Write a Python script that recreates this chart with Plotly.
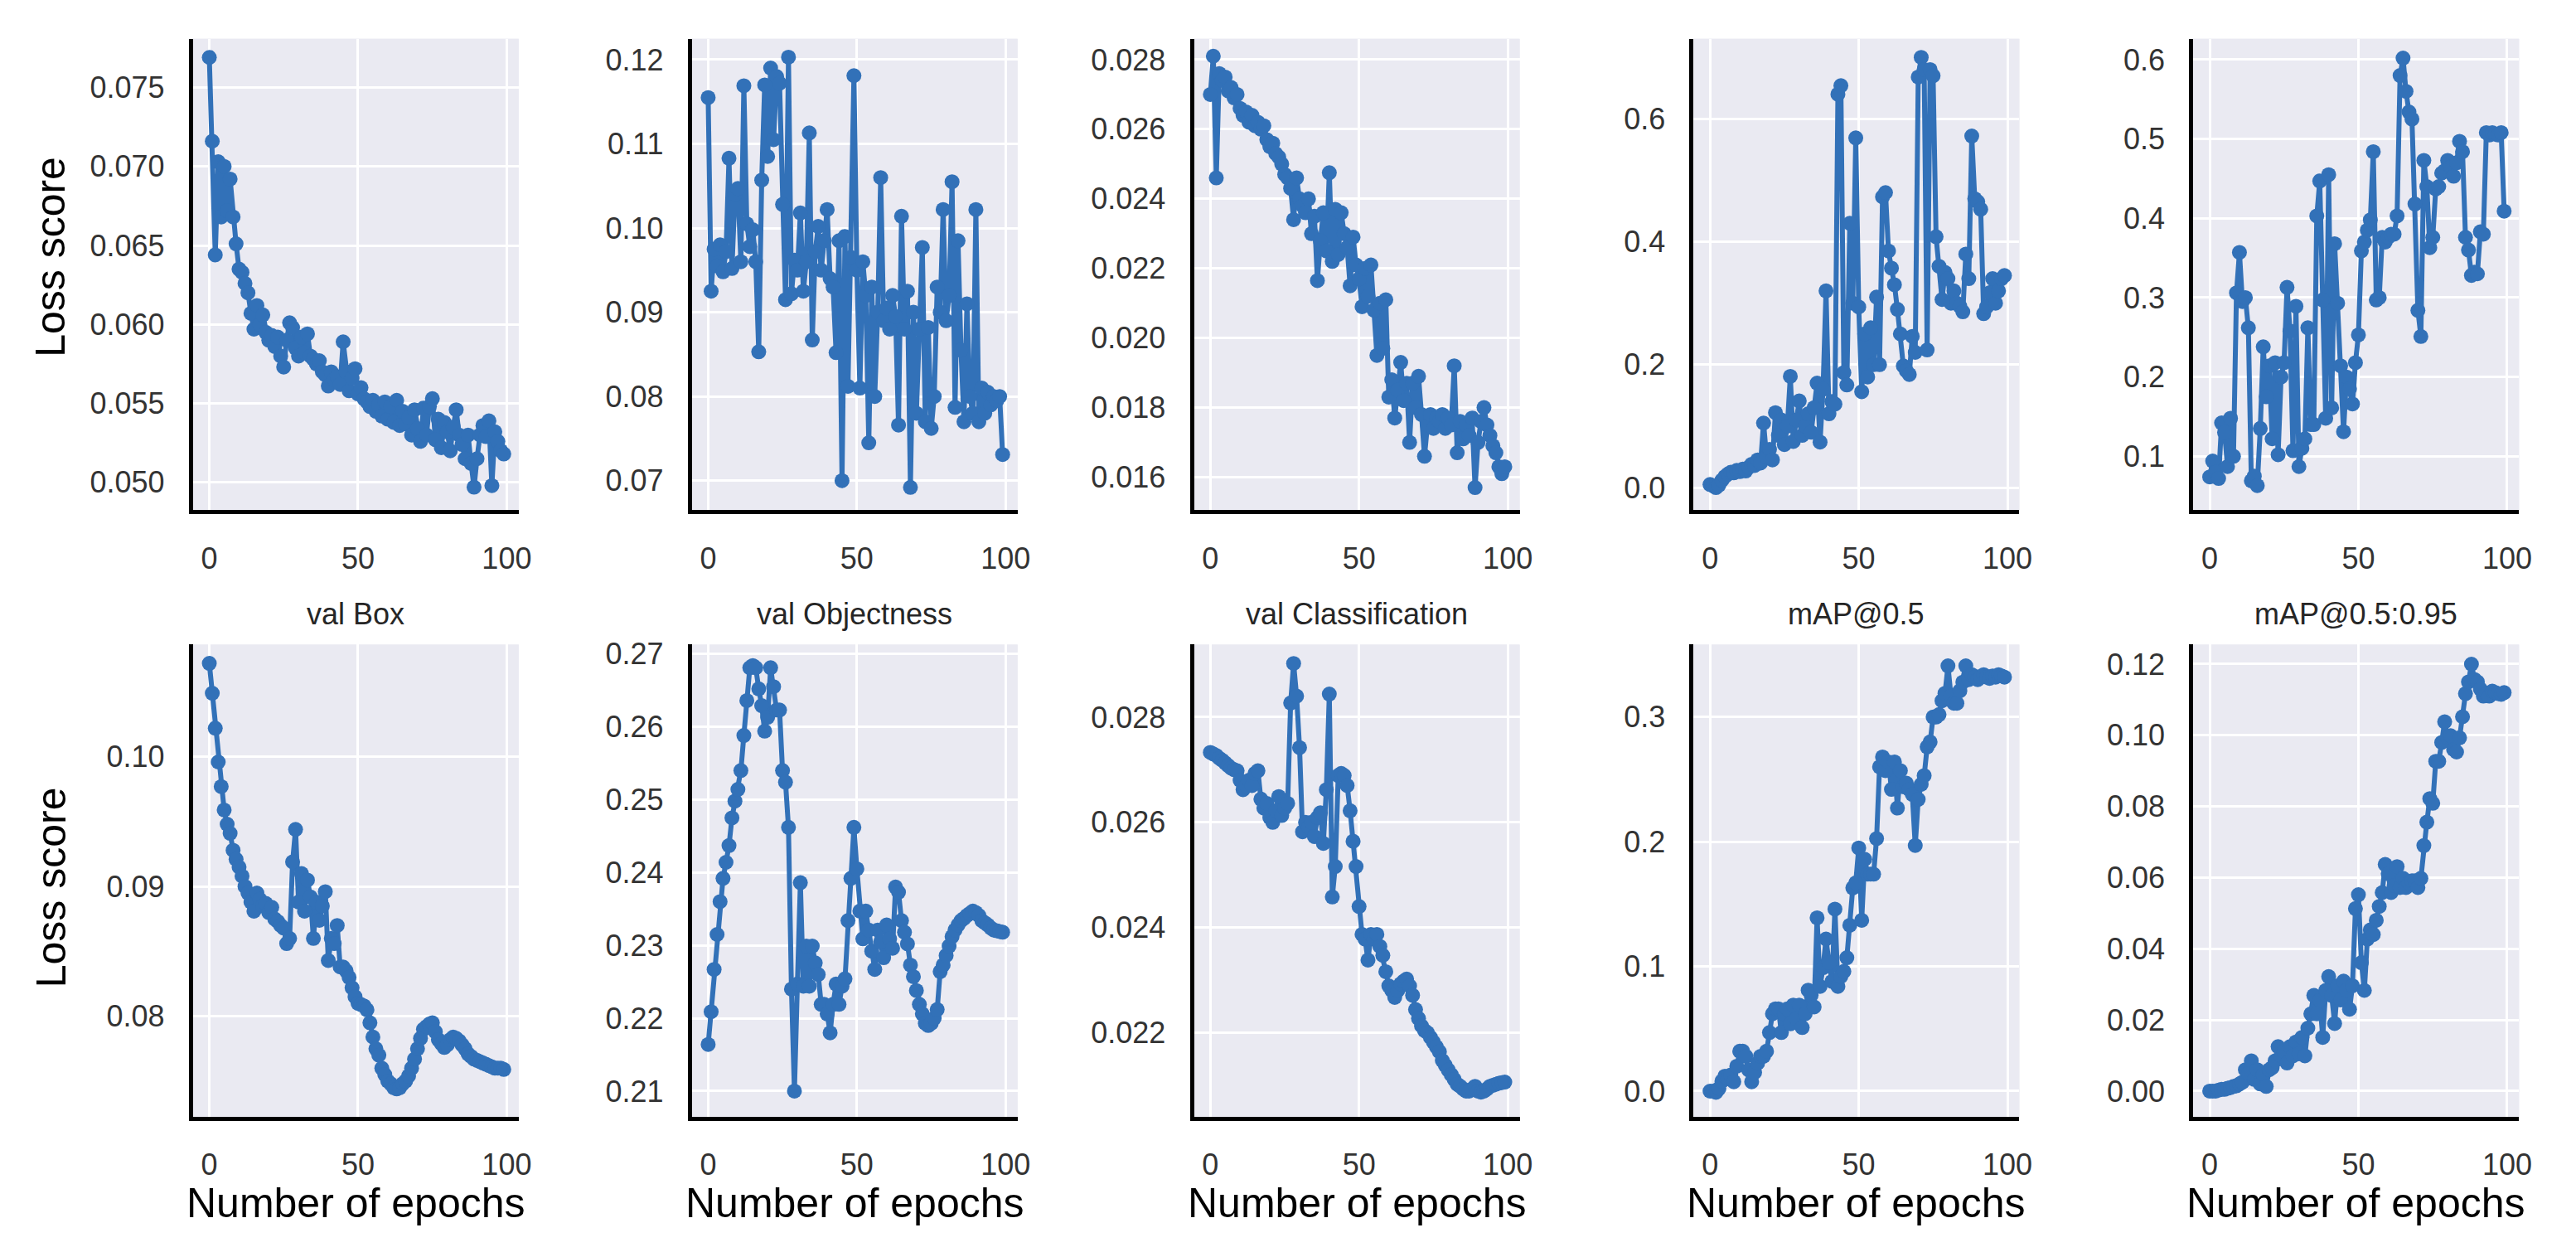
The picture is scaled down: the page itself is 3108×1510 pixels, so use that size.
import plotly.graph_objects as go

# ---------------- data ----------------
train_box = [0.0769, 0.0716, 0.0644, 0.0703, 0.0668, 0.0700, 0.0672, 0.0692, 0.0668, 0.0651,
             0.0635, 0.0633, 0.0626, 0.0620, 0.0607, 0.0597, 0.0612, 0.0600, 0.0606, 0.0595,
             0.0590, 0.0593, 0.0586, 0.0592, 0.0580, 0.0573, 0.0590, 0.0601, 0.0598, 0.0585,
             0.0580, 0.0592, 0.0582, 0.0594, 0.0580, 0.0578, 0.0575, 0.0577, 0.0570, 0.0568,
             0.0561, 0.0570, 0.0565, 0.0567, 0.0562, 0.0589, 0.0570, 0.0558, 0.0566, 0.0572,
             0.0556, 0.0560, 0.0553, 0.0551, 0.0548, 0.0552, 0.0545, 0.0549, 0.0542, 0.0551,
             0.0540, 0.0548, 0.0538, 0.0552, 0.0536, 0.0545, 0.0537, 0.0541, 0.0530, 0.0546,
             0.0534, 0.0526, 0.0547, 0.0530, 0.0548, 0.0553, 0.0527, 0.0540, 0.0522, 0.0538,
             0.0532, 0.0520, 0.0535, 0.0546, 0.0530, 0.0524, 0.0515, 0.0530, 0.0512, 0.0497,
             0.0515, 0.0530, 0.0536, 0.0529, 0.0539, 0.0498, 0.0532, 0.0526, 0.0520, 0.0518]

train_obj = [0.1155, 0.0925, 0.0975, 0.0955, 0.0980, 0.0948, 0.0972, 0.1083, 0.0952, 0.1040,
             0.1047, 0.0960, 0.1169, 0.1005, 0.0978, 0.0998, 0.0960, 0.0853, 0.1057, 0.1170,
             0.1085, 0.1190, 0.1105, 0.1180, 0.1172, 0.1028, 0.0915, 0.1203, 0.0922, 0.0962,
             0.0950, 0.1018, 0.0925, 0.0960, 0.1113, 0.0867, 0.0972, 0.1002, 0.0950, 0.0985,
             0.1022, 0.0940, 0.0930, 0.0852, 0.0985, 0.0700, 0.0990, 0.0812, 0.0965, 0.1181,
             0.0950, 0.0810, 0.0960, 0.0920, 0.0745, 0.0930, 0.0800, 0.0900, 0.1060, 0.0890,
             0.0905, 0.0880, 0.0920, 0.0895, 0.0766, 0.1014, 0.0880, 0.0925, 0.0692, 0.0900,
             0.0780, 0.0880, 0.0977, 0.0770, 0.0882, 0.0762, 0.0800, 0.0930, 0.0900, 0.1022,
             0.0890, 0.0920, 0.1055, 0.0787, 0.0985, 0.0855, 0.0770, 0.0910, 0.0800, 0.0780,
             0.1022, 0.0770, 0.0810, 0.0780, 0.0805, 0.0790, 0.0800, 0.0795, 0.0800, 0.0731]

train_cls = [0.0270, 0.0281, 0.0246, 0.0276, 0.0274, 0.0275, 0.0271, 0.0272, 0.0269, 0.0270,
             0.0266, 0.0264, 0.0265, 0.0262, 0.0264, 0.0261, 0.0262, 0.0260, 0.0261, 0.0257,
             0.0255, 0.0256, 0.0253, 0.0252, 0.0250, 0.0247, 0.0246, 0.0243, 0.0234, 0.0246,
             0.0240, 0.0238, 0.0236, 0.0240, 0.0230, 0.0235, 0.02165, 0.0228, 0.0236, 0.0225,
             0.02475, 0.0222, 0.0237, 0.0224, 0.0236, 0.0230, 0.0226, 0.0215, 0.0229, 0.0221,
             0.0217, 0.0209, 0.0220, 0.0212, 0.0221, 0.0208, 0.0195, 0.0210, 0.0197, 0.0211,
             0.0183, 0.0188, 0.0177, 0.0185, 0.0193, 0.0182, 0.0187, 0.0170, 0.0187, 0.0180,
             0.0189, 0.0178, 0.0166, 0.0175, 0.0178, 0.0174, 0.0177, 0.0176, 0.0178, 0.0174,
             0.0177, 0.0175, 0.0192, 0.0167, 0.0176, 0.0171, 0.0175, 0.0172, 0.0177, 0.0157,
             0.0170, 0.0176, 0.0180, 0.0175, 0.0172, 0.0169, 0.0167, 0.0163, 0.0161, 0.0163]

precision = [0.005, 0.003, 0.000, 0.004, 0.012, 0.018, 0.022, 0.025, 0.024, 0.028,
             0.026, 0.030, 0.027, 0.033, 0.038, 0.036, 0.045, 0.040, 0.105, 0.050,
             0.062, 0.045, 0.122, 0.085, 0.110, 0.070, 0.100, 0.181, 0.075, 0.110,
             0.141, 0.085, 0.100, 0.120, 0.090, 0.130, 0.170, 0.074, 0.160, 0.320,
             0.120, 0.140, 0.136, 0.640, 0.654, 0.187, 0.167, 0.430, 0.300, 0.569,
             0.294, 0.156, 0.250, 0.180, 0.260, 0.200, 0.310, 0.200, 0.473, 0.480,
             0.385, 0.357, 0.330, 0.290, 0.250, 0.198, 0.190, 0.184, 0.246, 0.220,
             0.668, 0.700, 0.680, 0.224, 0.680, 0.670, 0.408, 0.360, 0.306, 0.350,
             0.340, 0.300, 0.320, 0.300, 0.295, 0.286, 0.380, 0.340, 0.572, 0.470,
             0.465, 0.453, 0.283, 0.294, 0.317, 0.340, 0.300, 0.320, 0.340, 0.345]

recall = [0.074, 0.094, 0.080, 0.072, 0.142, 0.130, 0.087, 0.148, 0.100, 0.306,
          0.357, 0.295, 0.300, 0.262, 0.069, 0.075, 0.063, 0.135, 0.238, 0.175,
          0.214, 0.122, 0.218, 0.102, 0.200, 0.218, 0.313, 0.258, 0.107, 0.289,
          0.087, 0.110, 0.122, 0.262, 0.140, 0.140, 0.403, 0.447, 0.297, 0.148,
          0.455, 0.161, 0.368, 0.293, 0.214, 0.131, 0.200, 0.185, 0.166, 0.218,
          0.253, 0.359, 0.370, 0.385, 0.398, 0.484, 0.297, 0.300, 0.376, 0.370,
          0.376, 0.380, 0.380, 0.403, 0.580, 0.602, 0.560, 0.534, 0.525, 0.418,
          0.284, 0.251, 0.473, 0.440, 0.363, 0.376, 0.437, 0.440, 0.457, 0.460,
          0.473, 0.465, 0.453, 0.470, 0.497, 0.484, 0.376, 0.360, 0.328, 0.332,
          0.330, 0.383, 0.380, 0.508, 0.505, 0.508, 0.506, 0.505, 0.508, 0.409]

val_box = [0.1072, 0.1049, 0.1022, 0.0996, 0.0977, 0.0959, 0.0948, 0.0941, 0.0928, 0.0921,
           0.0915, 0.0908, 0.0900, 0.0895, 0.0888, 0.0881, 0.0895, 0.0890, 0.0885, 0.0887,
           0.0880, 0.0884, 0.0875, 0.0873, 0.0870, 0.0868, 0.0856, 0.0860, 0.0919, 0.0944,
           0.0888, 0.0910, 0.0881, 0.0905, 0.0892, 0.0860, 0.0888, 0.0874, 0.0885, 0.0896,
           0.0843, 0.0860, 0.0856, 0.0870, 0.0838, 0.0838, 0.0835, 0.0830, 0.0822, 0.0815,
           0.0810, 0.0809, 0.0808, 0.0805, 0.0795, 0.0784, 0.0775, 0.0770, 0.0760, 0.0755,
           0.0750, 0.0748, 0.0745, 0.0744, 0.0745, 0.0748, 0.0750, 0.0754, 0.0760, 0.0767,
           0.0775, 0.0783, 0.0790, 0.0792, 0.0794, 0.0795, 0.0788, 0.0782, 0.0779, 0.0776,
           0.0778, 0.0782, 0.0784, 0.0783, 0.0781, 0.0778, 0.0775, 0.0771, 0.0769, 0.0767,
           0.0766, 0.0765, 0.0764, 0.0763, 0.0762, 0.0761, 0.0760, 0.0760, 0.0760, 0.0759]

val_obj = [0.2164, 0.2209, 0.2267, 0.2315, 0.2360, 0.2392, 0.2414, 0.2437, 0.2475, 0.2498,
           0.2514, 0.2540, 0.2588, 0.2636, 0.2681, 0.2684, 0.2681, 0.2652, 0.2629, 0.2594,
           0.2613, 0.2681, 0.2655, 0.2623, 0.2623, 0.2540, 0.2524, 0.2462, 0.2240, 0.2100,
           0.2247, 0.2386, 0.2244, 0.2299, 0.2244, 0.2299, 0.2276, 0.2260, 0.2219, 0.2219,
           0.2206, 0.2180, 0.2219, 0.2247, 0.2219, 0.2244, 0.2254, 0.2334, 0.2392, 0.2462,
           0.2405, 0.2347, 0.2309, 0.2347, 0.2321, 0.2292, 0.2267, 0.2321, 0.2305, 0.2283,
           0.2328, 0.2309, 0.2296, 0.2380, 0.2373, 0.2334, 0.2318, 0.2302, 0.2273, 0.2257,
           0.2238, 0.2219, 0.2206, 0.2193, 0.2190, 0.2193, 0.2200, 0.2212, 0.2264, 0.2273,
           0.2286, 0.2299, 0.2312, 0.2321, 0.2328, 0.2334, 0.2337, 0.2341, 0.2344, 0.2347,
           0.2345, 0.2341, 0.2334, 0.2331, 0.2328, 0.2324, 0.2321, 0.2320, 0.2319, 0.2318]

val_cls = [0.02733, 0.02730, 0.02727, 0.02722, 0.02718, 0.02713, 0.02708, 0.02703, 0.02700, 0.02698,
           0.02680, 0.02662, 0.02670, 0.02680, 0.02670, 0.02693, 0.02698, 0.02644, 0.02627, 0.02636,
           0.02609, 0.02600, 0.02622, 0.02649, 0.02613, 0.02627, 0.02636, 0.02827, 0.02902, 0.02840,
           0.02742, 0.02582, 0.02600, 0.02591, 0.02600, 0.02573, 0.02609, 0.02618, 0.02560, 0.02662,
           0.02844, 0.02458, 0.02516, 0.02689, 0.02693, 0.02689, 0.02670, 0.02622, 0.02564, 0.02516,
           0.02440, 0.02387, 0.02378, 0.02338, 0.02387, 0.02378, 0.02387, 0.02364, 0.02347, 0.02316,
           0.02289, 0.02280, 0.02267, 0.02280, 0.02293, 0.02298, 0.02302, 0.02289, 0.02271, 0.02244,
           0.02227, 0.02213, 0.02204, 0.02200, 0.02191, 0.02182, 0.02173, 0.02164, 0.02147, 0.02138,
           0.02129, 0.02120, 0.02111, 0.02102, 0.02098, 0.02093, 0.02089, 0.02089, 0.02093, 0.02098,
           0.02089, 0.02087, 0.02089, 0.02093, 0.02098, 0.02100, 0.02102, 0.02104, 0.02105, 0.02106]

map50 = [0.000, 0.000, -0.001, 0.002, 0.008, 0.012, 0.010, 0.013, 0.0075, 0.020,
         0.032, 0.032, 0.028, 0.017, 0.0075, 0.015, 0.0225, 0.028, 0.028, 0.032,
         0.047, 0.062, 0.066, 0.066, 0.047, 0.062, 0.066, 0.054, 0.069, 0.058,
         0.069, 0.051, 0.062, 0.081, 0.077, 0.0675, 0.139, 0.084, 0.099, 0.122,
         0.103, 0.088, 0.146, 0.084, 0.092, 0.096, 0.107, 0.133, 0.163, 0.167,
         0.195, 0.137, 0.186, 0.174, 0.174, 0.174, 0.2025, 0.260, 0.268, 0.257,
         0.264, 0.242, 0.264, 0.227, 0.257, 0.244, 0.247, 0.242, 0.238, 0.197,
         0.234, 0.246, 0.253, 0.276, 0.280, 0.300, 0.300, 0.302, 0.313, 0.319,
         0.341, 0.317, 0.311, 0.311, 0.321, 0.328, 0.341, 0.330, 0.334, 0.332,
         0.330, 0.332, 0.334, 0.332, 0.331, 0.333, 0.332, 0.334, 0.333, 0.332]

map50_95 = [0.0, 0.0, 0.0, 0.0003, 0.0005, 0.0005, 0.0008, 0.0010, 0.0013, 0.0015,
            0.0020, 0.0025, 0.0060, 0.0050, 0.0085, 0.0033, 0.0060, 0.0020, 0.0046, 0.0013,
            0.0060, 0.0066, 0.0085, 0.0125, 0.0099, 0.0112, 0.0079, 0.0125, 0.0099, 0.0138,
            0.0105, 0.0151, 0.0099, 0.0177, 0.0217, 0.0269, 0.0217, 0.0256, 0.0151, 0.0283,
            0.0322, 0.0269, 0.0190, 0.0296, 0.0256, 0.0309, 0.0283, 0.0230, 0.0296, 0.0513,
            0.0552, 0.0361, 0.0283, 0.0427, 0.0453, 0.0440, 0.0480, 0.0519, 0.0558, 0.0637,
            0.0611, 0.0558, 0.0578, 0.0631, 0.0572, 0.0598, 0.0572, 0.0585, 0.0591, 0.0591,
            0.0572, 0.0598, 0.0690, 0.0756, 0.0822, 0.0809, 0.0927, 0.0927, 0.0980, 0.1038,
            0.0993, 0.0999, 0.0960, 0.0953, 0.0993, 0.1052, 0.1117, 0.1150, 0.1200, 0.1157,
            0.1150, 0.1130, 0.1110, 0.1117, 0.1110, 0.1124, 0.1120, 0.1117, 0.1115, 0.1120]

panel_series = [train_box, train_obj, train_cls, precision, recall,
                val_box, val_obj, val_cls, map50, map50_95]
panel_titles = ["", "", "", "", "",
                "val Box", "val Objectness", "val Classification", "mAP@0.5", "mAP@0.5:0.95"]
y_ranges = [[0.04824, 0.07808], [0.06649, 0.12248], [0.01505, 0.0286], [-0.0368, 0.7302], [0.032, 0.6263],
            [0.07225, 0.10865], [0.20647, 0.27128], [0.0204, 0.02938], [-0.0206, 0.3581], [-0.00723, 0.1255]]
y_ticks = [[0.050, 0.055, 0.060, 0.065, 0.070, 0.075],
           [0.07, 0.08, 0.09, 0.10, 0.11, 0.12],
           [0.016, 0.018, 0.020, 0.022, 0.024, 0.026, 0.028],
           [0.0, 0.2, 0.4, 0.6],
           [0.1, 0.2, 0.3, 0.4, 0.5, 0.6],
           [0.08, 0.09, 0.10],
           [0.21, 0.22, 0.23, 0.24, 0.25, 0.26, 0.27],
           [0.022, 0.024, 0.026, 0.028],
           [0.0, 0.1, 0.2, 0.3],
           [0.00, 0.02, 0.04, 0.06, 0.08, 0.10, 0.12]]
y_formats = [".3f", ".2f", ".3f", ".1f", ".1f", ".2f", ".2f", ".3f", ".1f", ".2f"]
x_ticks = [0, 50, 100]
y_label = "Loss score"
x_label = "Number of epochs"

# ---------------- layout geometry ----------------
W, H = 3108, 1510
col_left_px = [234, 839, 1448, 2054, 2660]
col_w_px = 395
row_top_px = [38, 773]
row_bot_px = [610, 1346]
ylabel_center_px = [303, 1068]

LINE = "#3271B8"
BG = "#EAEAF2"
FONT = "Liberation Sans, Arial, sans-serif"
TICKC = "#333333"

fig = go.Figure()
annotations = []
shapes = []
for i, ys in enumerate(panel_series):
    r, c = divmod(i, 5)
    idx = "" if i == 0 else str(i + 1)
    xs = list(range(len(ys)))
    fig.add_trace(go.Scatter(
        x=xs, y=ys, mode="lines+markers",
        line=dict(color=LINE, width=6),
        marker=dict(color=LINE, size=18),
        xaxis="x" + idx, yaxis="y" + idx, showlegend=False))
    x0 = col_left_px[c] / W
    x1 = (col_left_px[c] + col_w_px) / W
    y0 = 1 - row_bot_px[r] / H
    y1 = 1 - row_top_px[r] / H
    common = dict(showgrid=True, gridcolor="white", gridwidth=3, zeroline=False,
                  ticks="outside", ticklen=22, tickcolor="rgba(0,0,0,0)",
                  tickfont=dict(family=FONT, size=36, color=TICKC),
                  showline=True, linecolor="black", linewidth=5, mirror=False)
    fig.update_layout(**{
        "xaxis" + idx: dict(domain=[x0, x1], anchor="y" + idx, range=[-5.5, 104],
                            tickvals=x_ticks, **common),
        "yaxis" + idx: dict(domain=[y0, y1], anchor="x" + idx, range=y_ranges[i],
                            tickvals=y_ticks[i], tickformat=y_formats[i], **common),
    })
    shapes.append(dict(type="rect", xref="paper", yref="paper", layer="below",
                       x0=x0, x1=x1, y0=y0, y1=y1, fillcolor=BG, line=dict(width=0)))
    if panel_titles[i]:
        annotations.append(dict(text=panel_titles[i], xref="paper", yref="paper",
                                x=(x0 + x1) / 2, y=1 - 736 / H, xanchor="center", yanchor="middle",
                                showarrow=False, font=dict(family=FONT, size=36, color="#262626")))
    if r == 1:
        annotations.append(dict(text=x_label, xref="paper", yref="paper",
                                x=(x0 + x1) / 2, y=1 - 1451 / H, xanchor="center", yanchor="middle",
                                showarrow=False, font=dict(family=FONT, size=50, color="black")))
    if c == 0:
        annotations.append(dict(text=y_label, xref="paper", yref="paper", textangle=-90,
                                x=62 / W, y=1 - ylabel_center_px[r] / H, xanchor="center", yanchor="middle",
                                showarrow=False, font=dict(family=FONT, size=50, color="black")))

fig.update_layout(width=W, height=H, margin=dict(l=0, r=0, t=0, b=0),
                  paper_bgcolor="white", plot_bgcolor=BG,
                  annotations=annotations, shapes=shapes,
                  font=dict(family=FONT))
fig.write_html("out.html")
